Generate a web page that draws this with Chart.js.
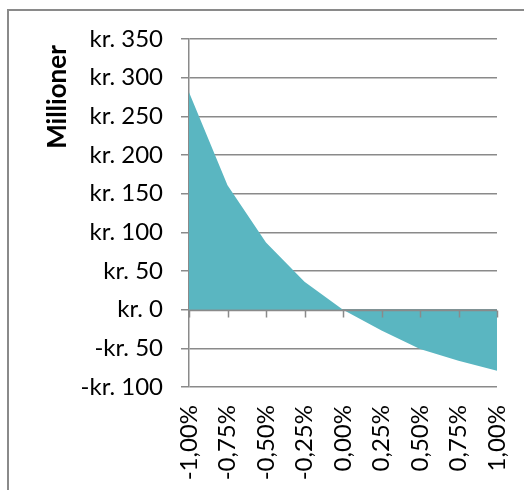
<!DOCTYPE html>
<html>
<head>
<meta charset="utf-8">
<script src="https://cdn.jsdelivr.net/npm/chart.js@4/dist/chart.umd.min.js"></script>
<style>
  html, body { margin: 0; padding: 0; background: #ffffff; }
  #wrap { position: relative; width: 524px; height: 490px; overflow: hidden; }
  #frame { position: absolute; left: 7px; top: 9px; width: 600px; height: 600px;
           border: 2px solid #8a8a8a; box-sizing: border-box; }
  canvas { position: absolute; left: 0; top: 0; }
</style>
</head>
<body>
<div id="wrap">
  <div id="frame"></div>
  <canvas id="c" width="524" height="490"></canvas>
</div>
<script>
// Rate change scenarios and resulting value change (kr. millions)
const categories = ['-1,00%', '-0,75%', '-0,50%', '-0,25%', '0,00%', '0,25%', '0,50%', '0,75%', '1,00%'];
const values = [281, 161, 87, 36, 0, -27, -51, -66, -79];
const yTicks = [-100, -50, 0, 50, 100, 150, 200, 250, 300, 350];
const yTitle = 'Millioner';

const GRID = '#8a8a8a';
const FILL = '#5AB6C1';
const FONT = 'Lato, "Open Sans", sans-serif';

function krLabel(v) {
  return v < 0 ? '-kr. ' + Math.abs(v) : 'kr. ' + v;
}

// Zero line with small tick marks hanging down at each category
const zeroTicks = {
  id: 'zeroTicks',
  afterDatasetsDraw(chart) {
    const x = chart.scales.x, y = chart.scales.y;
    const y0 = Math.round(y.getPixelForValue(0)) + 0.5;
    const ctx = chart.ctx;
    ctx.save();
    ctx.strokeStyle = GRID;
    ctx.lineWidth = 1.5;
    ctx.beginPath();
    ctx.moveTo(chart.chartArea.left, y0);
    ctx.lineTo(chart.chartArea.right, y0);
    for (let i = 0; i < categories.length; i++) {
      const px = Math.round(x.getPixelForTick(i)) + 0.5;
      ctx.moveTo(px, y0);
      ctx.lineTo(px, y0 + 7);
    }
    ctx.stroke();
    ctx.restore();
  }
};

// Vertical value-axis title near the top of the axis
const axisTitle = {
  id: 'axisTitle',
  afterDraw(chart) {
    const ctx = chart.ctx;
    ctx.save();
    ctx.translate(58, 97);
    ctx.rotate(-Math.PI / 2);
    ctx.font = 'bold 26px ' + FONT;
    ctx.fillStyle = '#000';
    ctx.textAlign = 'center';
    ctx.textBaseline = 'middle';
    ctx.fillText(yTitle, 0, 0);
    ctx.restore();
  }
};

new Chart(document.getElementById('c'), {
  type: 'line',
  data: {
    labels: categories,
    datasets: [{
      data: values,
      fill: 'origin',
      backgroundColor: FILL,
      borderColor: FILL,
      borderWidth: 0,
      pointRadius: 0,
      tension: 0
    }]
  },
  options: {
    responsive: false,
    animation: false,
    layout: { padding: { left: 0, right: 27, top: 39, bottom: 0 } },
    plugins: { legend: { display: false }, tooltip: { enabled: false } },
    scales: {
      x: {
        type: 'category',
        offset: false,
        grid: { display: false, drawTicks: false },
        border: { display: false },
        ticks: {
          minRotation: 90, maxRotation: 90, padding: 18,
          color: '#000', font: { family: FONT, size: 24 }
        },
        afterFit(scale) {
          scale.height = 103;
          scale.paddingLeft = 0;
          scale.paddingRight = 0;
        }
      },
      y: {
        min: -100, max: 350,
        afterBuildTicks(scale) { scale.ticks = yTicks.map(v => ({ value: v })); },
        grid: { color: GRID, lineWidth: 1.5, tickLength: 8, drawTicks: true },
        border: { display: true, color: GRID, width: 1.5 },
        ticks: {
          padding: 18, color: '#000',
          font: { family: FONT, size: 24 },
          callback: (v) => krLabel(v)
        },
        title: { display: false },
        afterFit(scale) { scale.width = 189; }
      }
    }
  },
  plugins: [zeroTicks, axisTitle]
});
</script>
</body>
</html>
